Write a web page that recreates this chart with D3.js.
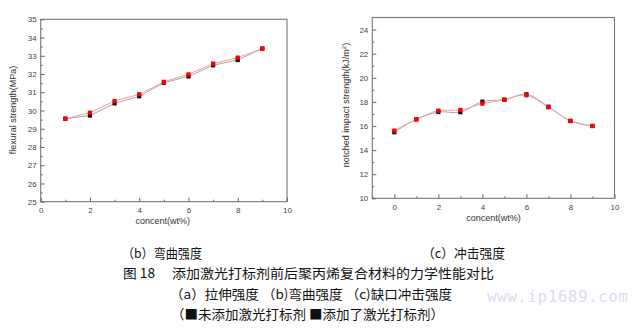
<!DOCTYPE html>
<html><head><meta charset="utf-8">
<script src="https://cdn.jsdelivr.net/npm/d3@7"></script>
<style>html,body{margin:0;padding:0;background:#fff;}svg{display:block;}</style>
</head><body>
<script>
// ---- data ----
const flexX = [1,2,3,4,5,6,7,8,9];
const flexBlack = [29.55,29.72,30.39,30.78,31.52,31.87,32.48,32.77,33.4];
const flexRed   = [29.55,29.88,30.52,30.89,31.57,31.98,32.57,32.9,33.39];
const impX = [0,1,2,3,4,5,6,7,8,9];
const impBlack = [15.48,16.55,17.16,17.14,18.02,18.18,18.63,17.6,16.41,16.0];
const impRed   = [15.62,16.55,17.27,17.33,17.85,18.18,18.55,17.55,16.43,16.0];
const flexXTicks = [0,2,4,6,8,10];
const flexYTicks = [25,26,27,28,29,30,31,32,33,34,35];
const impXTicks = [0,2,4,6,8,10];
const impYTicks = [10,12,14,16,18,20,22,24];
const xTitle = "concent(wt%)";
const flexYTitle = "flexural strength(MPa)";
const captionB = "（b）弯曲强度";
const captionC = "（c）冲击强度";
const figTitle = "添加激光打标剂前后聚丙烯复合材料的力学性能对比";
const subLine = "（a）拉伸强度 （b)弯曲强度 （c)缺口冲击强度";
const legendA = "未添加激光打标剂";
const legendB = "添加了激光打标剂";

const W=636,H=329;
const svg=d3.select("body").append("svg").attr("width",W).attr("height",H);
const tickFont="'Liberation Sans', Arial, sans-serif";
const cjk="'Noto Sans CJK SC', sans-serif";

function panel(o){
  const x=d3.scaleLinear().domain(o.xd).range([o.l,o.r]);
  const y=d3.scaleLinear().domain(o.yd).range([o.b,o.t]);
  const g=svg.append("g");
  g.append("rect").attr("x",o.l).attr("y",o.t).attr("width",o.r-o.l).attr("height",o.b-o.t)
    .attr("fill","none").attr("stroke","#777").attr("stroke-width",1.1);
  const xa=g.append("g").attr("transform",`translate(0,${o.b})`)
    .call(d3.axisBottom(x).tickValues(o.xt).tickSize(-4).tickPadding(6).tickFormat(d3.format("d")));
  xa.select(".domain").remove();
  xa.selectAll("line").attr("stroke","#666");
  xa.selectAll("text").attr("font-family",tickFont).attr("font-size","8px").attr("fill","#444");
  g.append("g").attr("transform",`translate(0,${o.b})`)
    .call(d3.axisBottom(x).tickValues(o.xm).tickSize(-2).tickFormat(""))
    .call(s=>{s.select(".domain").remove();s.selectAll("line").attr("stroke","#666");});
  const ya=g.append("g").attr("transform",`translate(${o.l},0)`)
    .call(d3.axisLeft(y).tickValues(o.yt).tickSize(-4).tickPadding(4).tickFormat(d3.format("d")));
  ya.select(".domain").remove();
  ya.selectAll("line").attr("stroke","#666");
  ya.selectAll("text").attr("font-family",tickFont).attr("font-size","8px").attr("fill","#444");
  g.append("g").attr("transform",`translate(${o.l},0)`)
    .call(d3.axisLeft(y).tickValues(o.ym).tickSize(-2).tickFormat(""))
    .call(s=>{s.select(".domain").remove();s.selectAll("line").attr("stroke","#666");});
  g.append("text").attr("x",(o.l+o.r)/2+o.xtdx).attr("y",o.xty).attr("text-anchor","middle")
    .attr("font-family",tickFont).attr("font-size","9px").attr("fill","#333").text(xTitle);
  const yt=g.append("text").attr("transform",`translate(${o.ytx},${o.yty}) rotate(-90)`)
    .attr("text-anchor","middle").attr("font-family",tickFont).attr("font-size","9px").attr("fill","#333");
  o.ytitle(yt);
  const line=d3.line().x(d=>x(d[0])).y(d=>y(d[1])).curve(o.curve);
  const dB=o.xs.map((v,i)=>[v,o.black[i]]), dR=o.xs.map((v,i)=>[v,o.red[i]]);
  g.append("path").attr("d",line(dB)).attr("fill","none").attr("stroke","#a8a8a8").attr("stroke-width",1);
  g.append("path").attr("d",line(dR)).attr("fill","none").attr("stroke","#f0a0a0").attr("stroke-width",1);
  const s=4.2;
  g.selectAll(".mb").data(dB).enter().append("rect")
    .attr("x",d=>x(d[0])-s/2).attr("y",d=>y(d[1])-s/2).attr("width",s).attr("height",s).attr("fill","#111");
  g.selectAll(".mr").data(dR).enter().append("rect")
    .attr("x",d=>x(d[0])-s/2).attr("y",d=>y(d[1])-s/2).attr("width",s).attr("height",s).attr("fill","#f00");
}

panel({l:40.7,r:287,t:19.3,b:201.7,xd:[0,10],yd:[25,35],
  xt:flexXTicks,xm:[1,3,5,7,9],yt:flexYTicks,ym:d3.range(25.5,35,1),
  xs:flexX,black:flexBlack,red:flexRed,curve:d3.curveLinear,
  xty:224,xtdx:-1,ytx:16,yty:110,
  ytitle:t=>t.text(flexYTitle)});

panel({l:372.3,r:614.5,t:17.5,b:198.3,xd:[-1,10],yd:[10,25],
  xt:impXTicks,xm:[-1,1,3,5,7,9],yt:impYTicks,ym:d3.range(11,25,2),
  xs:impX,black:impBlack,red:impRed,curve:d3.curveCatmullRom,
  xty:221,xtdx:0,ytx:349,yty:105,
  ytitle:t=>{t.append("tspan").text("notched impact strength(kJ/m");
    t.append("tspan").attr("font-size","6px").attr("dy","-3").text("2");
    t.append("tspan").attr("dy","3").text(")");}});

// captions
const cap=svg.append("g").attr("font-family",cjk).attr("fill","#111").attr("font-size","13px");
function ctext(x,y,len,str){
  cap.append("text").attr("x",x).attr("y",y).attr("textLength",len)
    .attr("lengthAdjust","spacingAndGlyphs").text(str);
}
ctext(122,258,80,captionB);
ctext(422,258,83,captionC);
ctext(123,278,32,"图 18");
ctext(172,278,322,figTitle);
ctext(170,299,282,subLine);
ctext(171,319,273,"（■"+legendA+" ■"+legendB+"）");
// watermark
svg.append("text").attr("x",487).attr("y",302).attr("font-family","'DejaVu Sans Mono', monospace")
  .attr("font-size","16px").attr("fill","#dcdcf2").attr("textLength",141).text("www.ip1689.com");
</script>
</body></html>
